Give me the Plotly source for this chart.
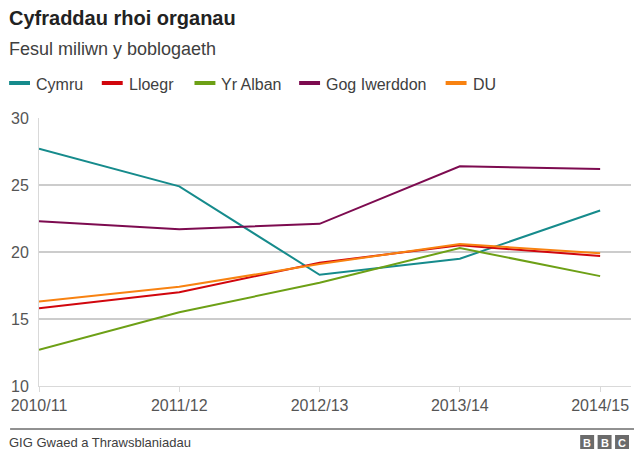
import plotly.graph_objects as go

# ---- data ----
years = ["2010/11", "2011/12", "2012/13", "2013/14", "2014/15"]
series_names = ["Cymru", "Lloegr", "Yr Alban", "Gog Iwerddon", "DU"]
cymru = [27.7, 24.9, 18.3, 19.5, 23.1]
lloegr = [15.8, 17.0, 19.2, 20.5, 19.7]
yr_alban = [12.7, 15.5, 17.7, 20.3, 18.2]
gog_iwerddon = [22.3, 21.7, 22.1, 26.4, 26.2]
du = [16.3, 17.4, 19.1, 20.6, 19.9]
y_ticks = [10, 15, 20, 25, 30]

title = "Cyfraddau rhoi organau"
subtitle = "Fesul miliwn y boblogaeth"
source = "GIG Gwaed a Thrawsblaniadau"

colors = ["#168b8c", "#d1060d", "#6da016", "#7d0b50", "#f88211"]
values = [cymru, lloegr, yr_alban, gog_iwerddon, du]

W, H = 642, 462
L, R, T, B = 37, 11, 118, 76
PW, PH = W - L - R, H - T - B
FONT = "Liberation Sans, Arial, Helvetica, sans-serif"
PAD = 3  # annotation inner padding


def px(x):
    return (x - L) / PW


def py(y):
    return (H - B - y) / PH


fig = go.Figure()
for name, vals, col in zip(series_names, values, colors):
    fig.add_trace(go.Scatter(x=years, y=vals, mode="lines", name=name,
                             line=dict(color=col, width=2), showlegend=False,
                             hoverinfo="x+y+name"))

annotations = []
shapes = []

annotations.append(dict(text="<b>" + title + "</b>", x=px(8 - PAD), y=py(18), xref="paper", yref="paper",
                        xanchor="left", yanchor="middle", showarrow=False,
                        font=dict(family=FONT, size=20, color="#222222")))
annotations.append(dict(text=subtitle, x=px(8 - PAD), y=py(49), xref="paper", yref="paper",
                        xanchor="left", yanchor="middle", showarrow=False,
                        font=dict(family=FONT, size=18, color="#404040")))

# manual legend
leg_line_x = [7, 100, 193, 298, 445]
for name, col, lx in zip(series_names, colors, leg_line_x):
    shapes.append(dict(type="line", xref="paper", yref="paper",
                       x0=px(lx), x1=px(lx + 21), y0=py(83), y1=py(83),
                       line=dict(color=col, width=4)))
    annotations.append(dict(text=name, x=px(lx + 28 - PAD), y=py(84), xref="paper", yref="paper",
                            xanchor="left", yanchor="middle", showarrow=False,
                            font=dict(family=FONT, size=16, color="#404040")))

# footer
shapes.append(dict(type="line", xref="paper", yref="paper", x0=px(8), x1=px(634),
                   y0=py(429), y1=py(429), line=dict(color="#222222", width=1)))
annotations.append(dict(text=source, x=px(8 - PAD), y=py(442), xref="paper", yref="paper",
                        xanchor="left", yanchor="middle", showarrow=False,
                        font=dict(family=FONT, size=13, color="#404040")))
for i, letter in enumerate("BBC"):
    x0 = 580 + i * 17.5
    shapes.append(dict(type="rect", xref="paper", yref="paper", x0=px(x0), x1=px(x0 + 14),
                       y0=py(449), y1=py(435), fillcolor="#6b6b6b", line=dict(width=0)))
    annotations.append(dict(text="<b>" + letter + "</b>", x=px(x0 + 7), y=py(442.5), xref="paper",
                            yref="paper", xanchor="center", yanchor="middle", showarrow=False,
                            font=dict(family=FONT, size=11, color="#ffffff")))

fig.update_layout(
    width=W, height=H,
    margin=dict(l=L, r=R, t=T, b=B, pad=0),
    paper_bgcolor="white", plot_bgcolor="white",
    showlegend=False,
    annotations=annotations, shapes=shapes,
    xaxis=dict(type="category", range=[0, 4.22], showgrid=False,
               showline=True, linecolor="#d9d9d9", linewidth=1,
               ticks="outside", ticklen=5, tickcolor="#d9d9d9",
               tickfont=dict(family=FONT, size=16, color="#555555"),
               fixedrange=True),
    yaxis=dict(range=[10, 30], tickvals=y_ticks, showgrid=True, gridcolor="#cccccc", gridwidth=2,
               zeroline=False, showline=True, linecolor="#d9d9d9", linewidth=1,
               ticks="outside", ticklen=6, tickcolor="rgba(0,0,0,0)",
               tickfont=dict(family=FONT, size=16, color="#555555"),
               fixedrange=True),
    hovermode="closest",
)

fig.write_html("out.html")
